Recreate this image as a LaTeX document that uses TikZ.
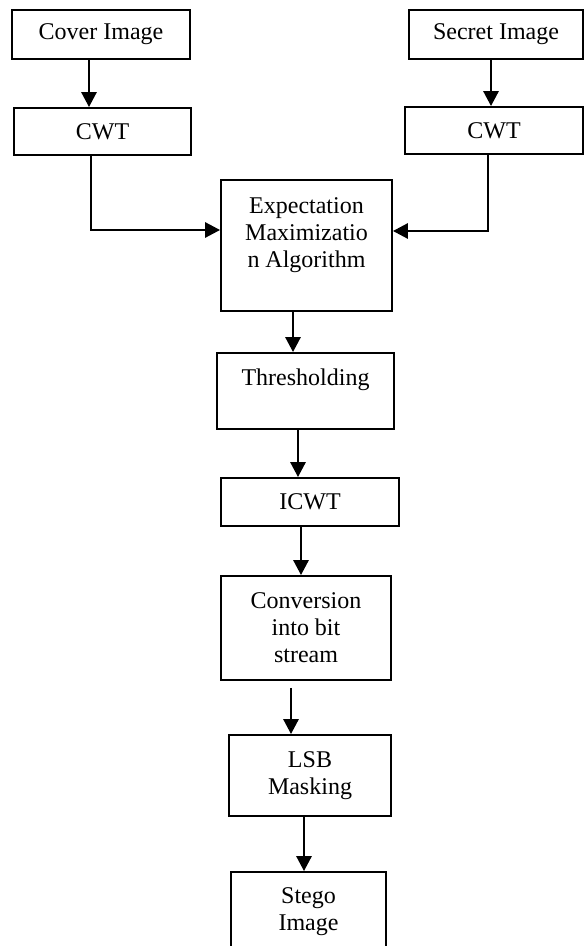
\documentclass[tikz,border=0pt]{standalone}
\usepackage{fontspec}
\setmainfont{Liberation Serif}
\usetikzlibrary{arrows.meta,positioning}

\tikzstyle{box} = [draw, line width=0.9pt, inner sep=0pt, align=center, font=\fontsize{12pt}{13.5pt}\selectfont]
\tikzstyle{txt} = [inner sep=0pt, align=center, font=\fontsize{12pt}{13.5pt}\selectfont]
\tikzstyle{arw} = [->, line width=1.4pt, >={Triangle[length=7.5pt,width=7.5pt]}]

\begin{document}
\begin{tikzpicture}[x=0.5pt,y=-0.5pt]
\useasboundingbox (0,0) rectangle (584,946);
\clip (0,0) rectangle (584,946);

% input branches
\node [box, minimum width=89pt, minimum height=24.5pt] (cover) at (101,34.5) {Cover Image};
\node [box, minimum width=88.5pt, minimum height=23.5pt] (cwtl) at (102.5,131.5) {CWT};
\node [box, minimum width=87pt, minimum height=24.5pt] (secret) at (496,34.5) {Secret Image};
\node [box, minimum width=89pt, minimum height=23.5pt] (cwtr) at (494,130.5) {CWT};

% main chain
\node [box, minimum width=85.5pt, minimum height=65.5pt] (em) at (306.5,245.5) {};
\node [txt] (emtext) at (306.5,235) {Expectation\\Maximizatio\\n Algorithm};
\node [box, minimum width=88.5pt, minimum height=38pt] (thr) at (305.5,391) {};
\node [txt] (thrtext) at (305.5,380) {Thresholding};
\node [box, minimum width=89pt, minimum height=24pt] (icwt) at (310,502) {ICWT};
\node [box, minimum width=85pt, minimum height=52pt] (conv) at (306,628) {Conversion\\into bit\\stream};
\node [box, minimum width=81pt, minimum height=40.5pt] (lsb) at (310,775.5) {LSB\\Masking};
\node [box, minimum width=77.5pt, minimum height=40pt] (stego) at (308.5,912) {Stego\\Image};

\draw[arw] ([xshift=-6pt]cover.south) -- ([xshift=-6.75pt]cwtl.north);
\draw[arw] ([xshift=-5.75pt]cwtl.south) |- ([yshift=7.75pt]em.west);
\draw[arw] ([xshift=-2.5pt]secret.south) -- ([xshift=-1.5pt]cwtr.north);
\draw[arw] ([xshift=-3pt]cwtr.south) |- ([yshift=7.25pt]em.east);
\draw[arw] ([xshift=-6.75pt]em.south) -- ([xshift=-6.25pt]thr.north);
\draw[arw] ([xshift=-3.75pt]thr.south) -- ([xshift=-6pt]icwt.north);
\draw[arw] ([xshift=-4.5pt]icwt.south) -- ([xshift=-2.5pt]conv.north);
\draw[arw, shorten <=3.5pt] ([xshift=-7.5pt]conv.south) -- ([xshift=-9.5pt]lsb.north);
\draw[arw] ([xshift=-3pt]lsb.south) -- ([xshift=-2.25pt]stego.north);

\end{tikzpicture}
\end{document}
